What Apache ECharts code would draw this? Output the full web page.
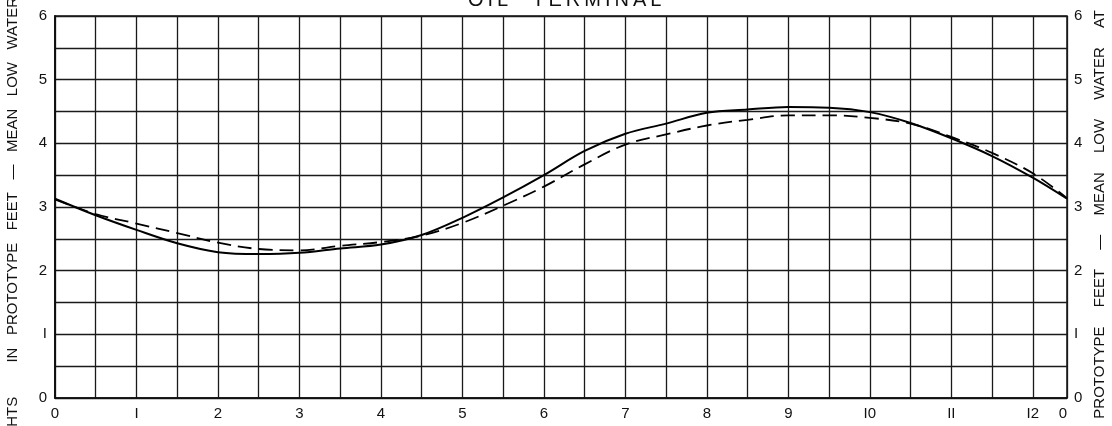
<!DOCTYPE html>
<html>
<head>
<meta charset="utf-8">
<script src="https://cdn.jsdelivr.net/npm/echarts@6/dist/echarts.min.js"></script>
<style>
html,body{margin:0;padding:0;background:#fff;}
#chart{width:1112px;height:426px;}
</style>
</head>
<body>
<div id="chart"></div>
<script>
var titleText = 'O\u2009I\u2009L\u2003\u2009T\u2009E\u2009R\u2009M\u2009I\u2009N\u2009A\u2009L';
var leftAxisName = 'HEIGHTS \u2003\u2003IN   PROTOTYPE   FEET   \u2014   MEAN   LOW   WATER';
var rightAxisName = 'HEIGHTS \u2003IN \u2003PROTOTYPE \u2003FEET \u2003\u2014 \u2003MEAN \u2003LOW \u2003WATER \u2003AT';
var hours = [0,0.5,1,1.5,2,2.5,3,3.5,4,4.5,5,5.5,6,6.5,7,7.5,8,8.5,9,9.5,10,10.5,11,11.5,12,12.42];
var solidCurve = [3.13,2.87,2.64,2.43,2.29,2.26,2.28,2.35,2.41,2.56,2.83,3.15,3.50,3.88,4.15,4.31,4.48,4.53,4.57,4.56,4.49,4.32,4.08,3.80,3.46,3.13];
var dashedCurve = [3.12,2.89,2.74,2.59,2.44,2.34,2.32,2.39,2.45,2.55,2.75,3.02,3.32,3.67,3.98,4.14,4.28,4.37,4.44,4.44,4.40,4.31,4.10,3.85,3.53,3.14];
var xTickLabels = ['0','I','2','3','4','5','6','7','8','9','I0','II','I2'];
var xEndLabel = '0';
var yTickLabels = ['0','I','2','3','4','5','6'];

function pairs(xs, ys){ return xs.map(function(x,i){ return [x, ys[i]]; }); }

var chart = echarts.init(document.getElementById('chart'), null, {renderer:'canvas'});
var font = 'Liberation Sans';
var labelStyle = {color:'#111', fontSize:15, fontFamily:font};

var option = {
  animation:false,
  backgroundColor:'#fff',
  title:{text:titleText, left:468, top:-10, padding:0,
    textStyle:{fontSize:20, fontWeight:'normal', color:'#111', fontFamily:font}},
  grid:{left:55, right:45, top:16, bottom:28, show:true, borderColor:'#111', borderWidth:1.5, backgroundColor:'transparent'},
  xAxis:[{
    type:'value', min:0, max:12.42, interval:0.5,
    axisLine:{show:true, lineStyle:{color:'#111', width:1.5}},
    axisTick:{show:false},
    splitLine:{show:true, lineStyle:{color:'#1a1a1a', width:1.3}},
    axisLabel:Object.assign({margin:8, showMaxLabel:false, formatter:function(v){
      if (Math.abs(v - Math.round(v)) < 1e-6) { return xTickLabels[Math.round(v)] || ''; }
      return '';
    }}, labelStyle)
  },{
    type:'value', min:0, max:12.42, interval:12.42, position:'bottom',
    axisLine:{show:false}, axisTick:{show:false}, splitLine:{show:false},
    axisLabel:Object.assign({margin:8, showMinLabel:false, showMaxLabel:true, align:'right', formatter:function(v){
      return v > 12 ? xEndLabel : '';
    }}, labelStyle)
  }],
  yAxis:[{
    type:'value', min:0, max:6, interval:0.5, position:'left',
    axisLine:{show:true, lineStyle:{color:'#111', width:1.5}},
    axisTick:{show:false},
    splitLine:{show:true, lineStyle:{color:'#1a1a1a', width:1.3}},
    axisLabel:Object.assign({margin:8, formatter:function(v){
      if (Math.abs(v - Math.round(v)) < 1e-6) { return yTickLabels[Math.round(v)]; }
      return '';
    }}, labelStyle)
  },{
    type:'value', min:0, max:6, interval:0.5, position:'right',
    axisLine:{show:true, lineStyle:{color:'#111', width:1.5}},
    axisTick:{show:false}, splitLine:{show:false},
    axisLabel:Object.assign({margin:7, formatter:function(v){
      if (Math.abs(v - Math.round(v)) < 1e-6) { return yTickLabels[Math.round(v)]; }
      return '';
    }}, labelStyle)
  }],
  graphic:[
    {type:'text', x:13, y:-3, rotation:Math.PI/2,
      style:{text:leftAxisName, fill:'#111', font:'15px "Liberation Sans"', textAlign:'right', textVerticalAlign:'middle'}},
    {type:'text', x:1100, y:10, rotation:Math.PI/2,
      style:{text:rightAxisName, fill:'#111', font:'15px "Liberation Sans"', textAlign:'right', textVerticalAlign:'middle'}}
  ],
  series:[{
    type:'line', data:pairs(hours, solidCurve), smooth:0.35, symbol:'none',
    lineStyle:{color:'#000', width:2}, z:5
  },{
    type:'line', data:pairs(hours, dashedCurve), smooth:0.35, symbol:'none',
    lineStyle:{color:'#000', width:1.8, type:[14,7]}, z:5
  }]
};
chart.setOption(option);
</script>
</body>
</html>
